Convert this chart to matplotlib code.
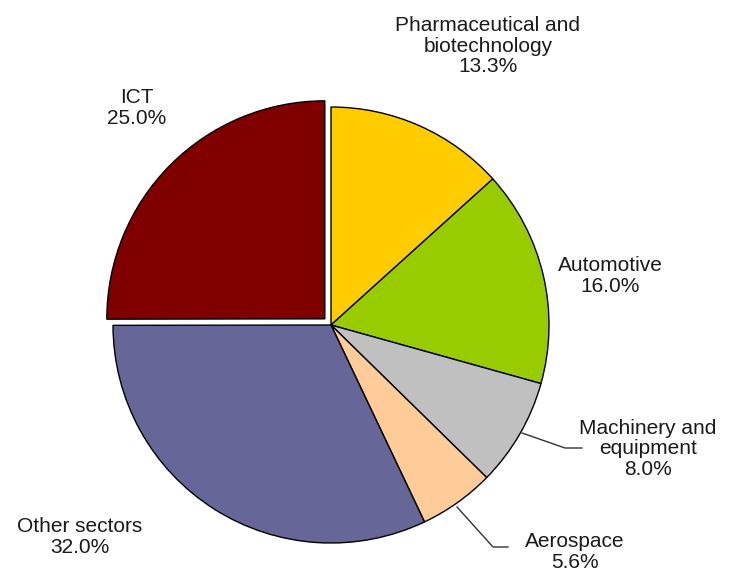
import matplotlib
matplotlib.use("Agg")
import matplotlib.pyplot as plt

plt.rcParams['font.family'] = ['Liberation Sans', 'DejaVu Sans']

labels = ["Pharmaceutical and\nbiotechnology", "Automotive", "Machinery and\nequipment",
          "Aerospace", "Other sectors", "ICT"]
values = [13.3, 16.0, 8.0, 5.6, 32.0, 25.0]
colors = ["#FFCC00", "#99CC00", "#C0C0C0", "#FFCC99", "#666699", "#800000"]
explode = [0, 0, 0, 0, 0, 0.04]

fig = plt.figure(figsize=(7.41, 5.73), dpi=100)
ax = fig.add_axes([0, 0, 1, 1])
ax.pie(values, colors=colors, explode=explode, startangle=90, counterclock=False,
       wedgeprops=dict(edgecolor="black", linewidth=1.0))

R = 218.0
cx, cy = 331.0, 325.0
ax.set_xlim(-cx / R, (741 - cx) / R)
ax.set_ylim(-(573 - cy) / R, cy / R)
ax.set_aspect('auto')
ax.axis('off')

def px(x, y):
    return ((x - cx) / R, (cy - y) / R)

label_pos = [(488, 46), (610, 276), (648, 449), (575, 552), (80, 537), (137, 108)]
for lab, v, (x, y) in zip(labels, values, label_pos):
    dx, dy = px(x, y)
    ax.text(dx, dy, f"{lab}\n{v:.1f}%", ha="center", va="center", fontsize=15,
            color="#1a1a1a", linespacing=1.12)

# leader lines
for pts in ([(522, 433), (565, 448), (582, 448)], [(457, 507), (493, 547), (508, 547)]):
    xs, ys = zip(*[px(x, y) for x, y in pts])
    ax.plot(xs, ys, color="#333333", lw=1.0)

fig.savefig("out.png", dpi=100)
